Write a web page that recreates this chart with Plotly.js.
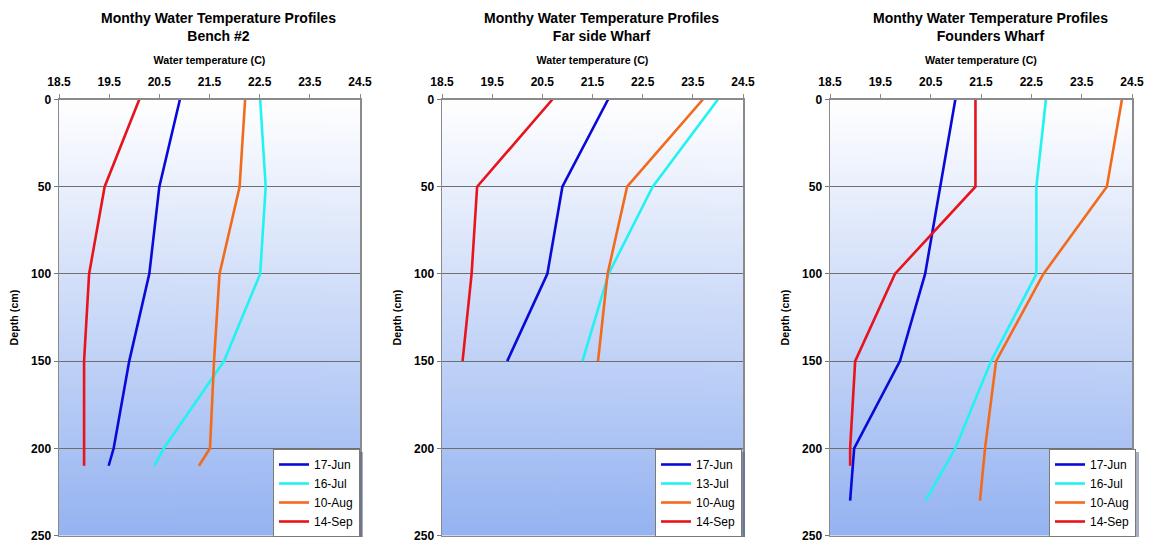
<!DOCTYPE html>
<html>
<head>
<meta charset="utf-8">
<script src="https://cdn.plot.ly/plotly-3.0.1.min.js"></script>
<style>html,body{margin:0;padding:0;background:#fff;overflow:hidden;}#chart{width:1149px;height:542px;}</style>
</head>
<body>
<div id="chart"></div>
<script>
// ---- data ----
const panelTitles = ["Monthy Water Temperature Profiles<br>Bench #2",
                     "Monthy Water Temperature Profiles<br>Far side Wharf",
                     "Monthy Water Temperature Profiles<br>Founders Wharf"];
const xTitle = "Water temperature (C)";
const yTitle = "Depth (cm)";

// Bench #2
const benchDepth = [0, 50, 100, 150, 200, 210];
const benchNames = ["17-Jun", "16-Jul", "10-Aug", "14-Sep"];
const bench_17Jun = [20.91, 20.50, 20.30, 19.90, 19.59, 19.49];
const bench_16Jul = [22.51, 22.62, 22.51, 21.79, 20.59, 20.40];
const bench_10Aug = [22.21, 22.10, 21.70, 21.59, 21.51, 21.29];
const bench_14Sep = [20.10, 19.41, 19.10, 19.00, 19.00, 19.00];

// Far side Wharf
const farDepth = [0, 50, 100, 150];
const farNames = ["17-Jun", "13-Jul", "10-Aug", "14-Sep"];
const far_17Jun = [21.81, 20.90, 20.60, 19.80];
const far_13Jul = [24.00, 22.70, 21.82, 21.30];
const far_10Aug = [23.70, 22.19, 21.80, 21.61];
const far_14Sep = [20.70, 19.20, 19.09, 18.91];

// Founders Wharf
const foundDepth = [0, 50, 100, 150, 200, 230];
const foundDepthSep = [0, 50, 100, 150, 200, 210];
const foundNames = ["17-Jun", "16-Jul", "10-Aug", "14-Sep"];
const found_17Jun = [20.99, 20.69, 20.39, 19.89, 18.98, 18.90];
const found_16Jul = [22.79, 22.60, 22.60, 21.70, 20.99, 20.40];
const found_10Aug = [24.30, 24.00, 22.74, 21.80, 21.58, 21.48];
const found_14Sep = [21.39, 21.39, 19.79, 19.00, 18.90, 18.90];

const xRange = [18.5, 24.5];
const yRange = [250, 0];

// ---- styling ----
const colors = ["#0a0ad8", "#22f2f2", "#f26b1d", "#e8131b"];
const W = 1149, H = 542;
const px = v => v / W, py = v => 1 - v / H;
const domX = [[59, 360], [442, 743], [830, 1132]];
const domY = [py(535.5), py(99.5)];

function gradURL() {
  const c = document.createElement('canvas');
  c.width = 4; c.height = 400;
  const g = c.getContext('2d');
  const gr = g.createLinearGradient(0, 0, 0, 400);
  gr.addColorStop(0, '#ffffff');
  gr.addColorStop(1, '#95b3f1');
  g.fillStyle = gr; g.fillRect(0, 0, 4, 400);
  return c.toDataURL();
}

const panels = [
  {depths: [benchDepth, benchDepth, benchDepth, benchDepth], series: [bench_17Jun, bench_16Jul, bench_10Aug, bench_14Sep], names: benchNames},
  {depths: [farDepth, farDepth, farDepth, farDepth], series: [far_17Jun, far_13Jul, far_10Aug, far_14Sep], names: farNames},
  {depths: [foundDepth, foundDepth, foundDepth, foundDepthSep], series: [found_17Jun, found_16Jul, found_10Aug, found_14Sep], names: foundNames}
];

const traces = [];
const layout = {
  width: W, height: H,
  margin: {l: 0, r: 0, t: 0, b: 0},
  paper_bgcolor: '#ffffff',
  plot_bgcolor: 'rgba(0,0,0,0)',
  font: {family: 'Liberation Sans, Arial, sans-serif', color: '#000'},
  showlegend: true,
  annotations: [],
  images: [],
  shapes: []
};
const titleCenters = [218, 601, 990];
const legendLeft = [273, 655, 1049];
const legendW = 87, legendH = 85;
const legendTop = 449;
const url = gradURL();

panels.forEach((p, i) => {
  const k = i === 0 ? '' : String(i + 1);
  const lg = i === 0 ? 'legend' : 'legend' + (i + 1);
  p.series.forEach((s, j) => {
    traces.push({
      type: 'scatter', mode: 'lines',
      x: s, y: p.depths[j], name: p.names[j],
      xaxis: 'x' + k, yaxis: 'y' + k, legend: lg,
      line: {color: colors[j], width: 2.6},
      hoverinfo: 'x+y+name'
    });
  });
  layout['xaxis' + k] = {
    domain: [px(domX[i][0]), px(domX[i][1])],
    anchor: 'y' + k, side: 'top',
    range: xRange, tick0: 18.5, dtick: 1,
    ticks: 'outside', ticklen: 4, tickcolor: '#888', tickwidth: 1,
    ticklabelstandoff: 3, ticklabeloverflow: 'allow',
    showline: true, linecolor: '#8a8a8a', linewidth: 1.5, mirror: true,
    showgrid: false, zeroline: false, automargin: false,
    tickfont: {size: 12, weight: 'bold'},
    title: {text: xTitle, font: {size: 10.7, weight: 'bold'}, standoff: 8}
  };
  layout['yaxis' + k] = {
    domain: domY, anchor: 'x' + k,
    range: yRange, tick0: 0, dtick: 50,
    ticks: 'outside', ticklen: 4, tickcolor: '#777',
    ticklabeloverflow: 'allow',
    showline: true, linecolor: '#8a8a8a', linewidth: 1.5, mirror: true,
    showgrid: true, gridcolor: '#6e6e6e', gridwidth: 1, zeroline: false, automargin: false,
    tickfont: {size: 12, weight: 'bold'},
    title: {text: yTitle, font: {size: 10.7, weight: 'bold'}, standoff: 10}
  };
  layout[lg] = {
    x: px(legendLeft[i]), y: py(legendTop), xanchor: 'left', yanchor: 'top',
    bgcolor: '#ffffff', bordercolor: '#7a7a7a', borderwidth: 1,
    font: {size: 12}, tracegroupgap: 0, itemwidth: 30
  };
  layout.annotations.push({
    xref: 'paper', yref: 'paper', x: px(titleCenters[i]), y: py(27),
    xanchor: 'center', yanchor: 'middle', showarrow: false,
    text: panelTitles[i], font: {size: 14, weight: 'bold'}
  });
  layout.images.push({
    source: url, xref: 'paper', yref: 'paper',
    x: px(domX[i][0]), y: domY[1], sizex: px(domX[i][1]) - px(domX[i][0]), sizey: domY[1] - domY[0],
    xanchor: 'left', yanchor: 'top', sizing: 'stretch', layer: 'below'
  });
  // drop shadow behind legend box
  layout.shapes.push({
    type: 'rect', xref: 'paper', yref: 'paper', layer: 'above',
    x0: px(legendLeft[i] + 3), x1: px(legendLeft[i] + legendW + 3),
    y0: py(legendTop + legendH + 3), y1: py(legendTop + 3),
    fillcolor: 'rgba(80,95,130,0.5)', line: {width: 0}
  });
});

Plotly.newPlot('chart', traces, layout, {displayModeBar: false, staticPlot: true});
</script>
</body>
</html>
